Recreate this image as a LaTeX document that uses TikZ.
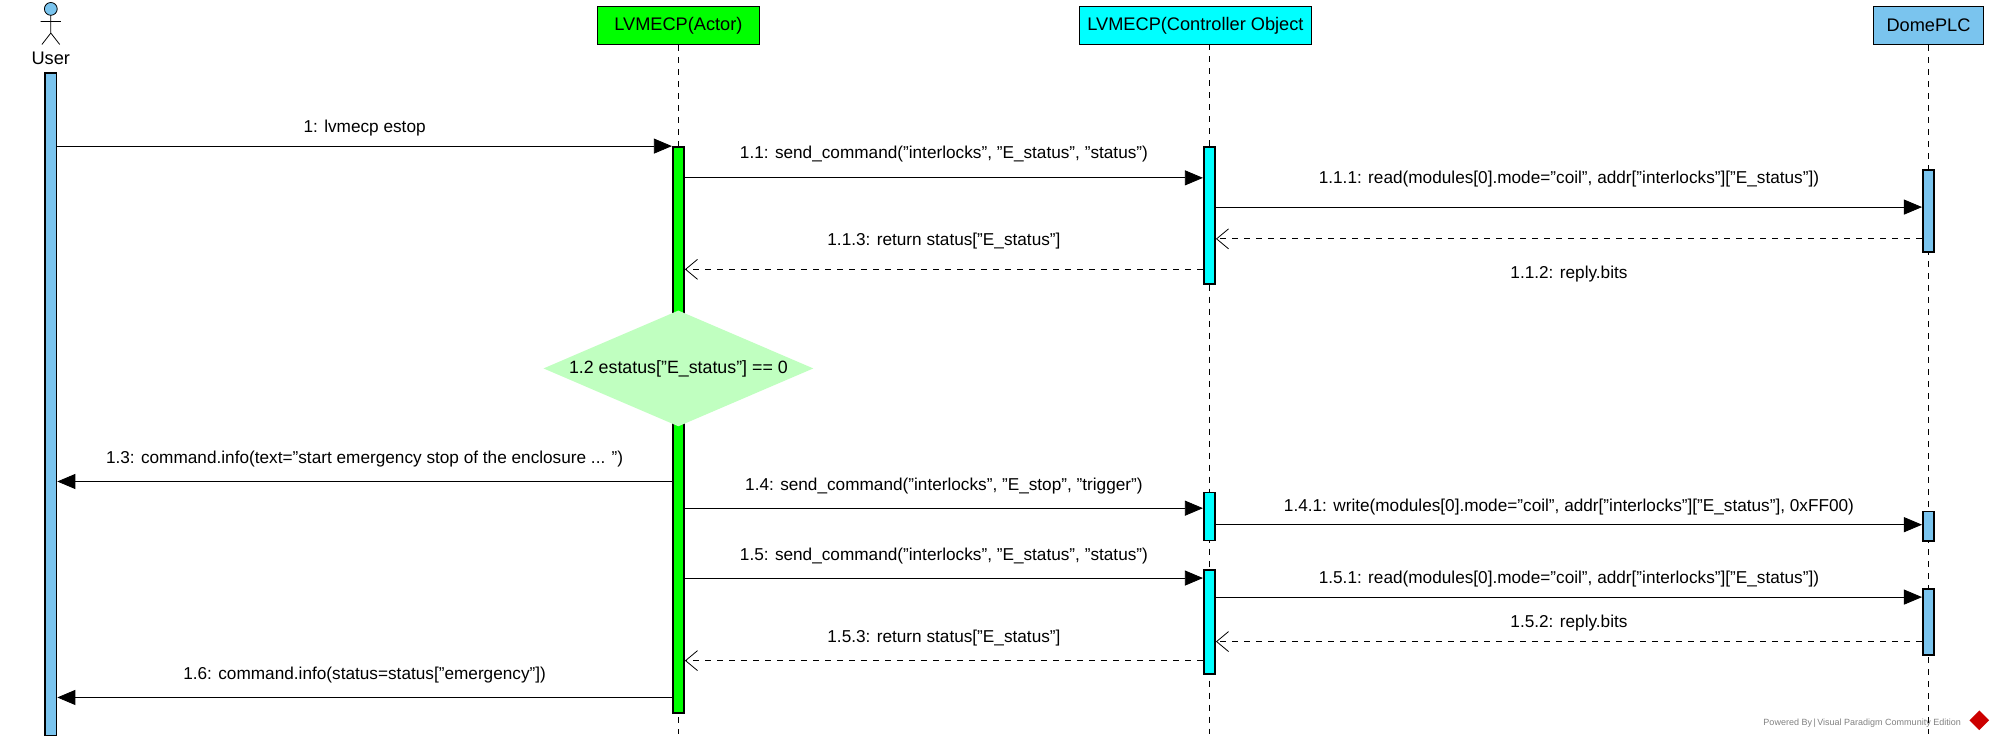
\documentclass[tikz,border=0pt]{standalone}
\usepackage{fontspec}
\setmainfont{Liberation Sans}
\usetikzlibrary{arrows.meta,shapes.geometric}
\definecolor{userblue}{RGB}{122,196,238}
\definecolor{actgreen}{RGB}{0,255,0}
\definecolor{ctrlcyan}{RGB}{0,255,255}
\definecolor{condgreen}{RGB}{192,255,192}
\tikzset{
	head/.style={draw, thick, minimum height=19pt, inner xsep=4pt, font=\fontsize{9.1}{11}\selectfont},
	bar/.style={draw, thick, minimum width=5.7pt, inner sep=0pt, anchor=north},
	life/.style={dashed, thin},
	msg/.style={thin, -{Triangle[length=9pt, width=7.5pt]}},
	ret/.style={thin, dashed, -{Straight Barb[length=6pt, width=10pt]}},
	lbl/.style={font=\fontsize{8.6}{10}\selectfont, above=1.5pt},
}
\begin{document}
\begin{tikzpicture}[x=0.635pt, y=-0.635pt]
	\useasboundingbox (0,0) rectangle (1568,583);
	% lifeline heads
	\node[head, fill=actgreen, minimum width=81pt] (actor) at (534,20) {LVMECP(Actor)};
	\node[head, fill=ctrlcyan, minimum width=111pt] (ctrl) at (941,20) {LVMECP(Controller Object};
	\node[head, fill=userblue, minimum width=55pt] (plc) at (1518,20) {DomePLC};
	% user stick figure
	\draw[thin, fill=userblue] (40,7) circle (3.2pt);
	\draw[thin] (40,12) -- (40,26) (32,17) -- (48,17) (33,35) -- (40,26) -- (47,35);
	\node[font=\fontsize{9.1}{11}\selectfont] (user) at (40,46) {User};
	% lifelines
	\draw[life] (actor.south) -- (534,578);
	\draw[life] (952,35) -- (952,578);
	\draw[life] (plc.south) -- (1518,578);
	% activations
	\node[bar, fill=userblue, minimum height=331pt] (ub) at (40,57) {};
	\node[bar, fill=actgreen, minimum height=283pt] (ab) at (534,115) {};
	\node[bar, fill=ctrlcyan, minimum height=68.6pt] (cb1) at (952,115) {};
	\node[bar, fill=ctrlcyan, minimum height=24pt] (cb2) at (952,387) {};
	\node[bar, fill=ctrlcyan, minimum height=52pt] (cb3) at (952,448) {};
	\node[bar, fill=userblue, minimum height=41pt] (pb1) at (1518,133) {};
	\node[bar, fill=userblue, minimum height=14.6pt] (pb2) at (1518,402) {};
	\node[bar, fill=userblue, minimum height=33pt] (pb3) at (1518,463) {};
	% condition
	\node[diamond, fill=condgreen, minimum width=135pt, minimum height=58pt, inner sep=0pt,
		aspect=2.3, font=\fontsize{8.9}{11}\selectfont] (cond) at (534,290) {1.2 estatus["E\_status"] == 0};
	% messages
	\draw[msg] (ub.east |- 0,115) -- node[lbl] {1: lvmecp estop} (ab.west |- 0,115);
	\draw[msg] (ab.east |- 0,140) -- node[lbl, yshift=3pt] {1.1: send\_command("interlocks", "E\_status", "status")} (cb1.west |- 0,140);
	\draw[msg] (cb1.east |- 0,163) -- node[lbl, yshift=5pt] {1.1.1: read(modules[0].mode="coil", addr["interlocks"]["E\_status"])} (pb1.west |- 0,163);
	\draw[ret] (pb1.west |- 0,188) -- node[font=\fontsize{8.6}{10}\selectfont, below=10pt] {1.1.2: reply.bits} (cb1.east |- 0,188);
	\draw[ret] (cb1.west |- 0,212) -- node[lbl, yshift=5pt] {1.1.3: return status["E\_status"]} (ab.east |- 0,212);
	\draw[msg] (ab.west |- 0,379) -- node[lbl, yshift=2pt] {1.3: command.info(text="start emergency stop of the enclosure ... ")} (ub.east |- 0,379);
	\draw[msg] (ab.east |- 0,400) -- node[lbl, yshift=2pt] {1.4: send\_command("interlocks", "E\_stop", "trigger")} (cb2.west |- 0,400);
	\draw[msg] (cb2.east |- 0,413) -- node[lbl] {1.4.1: write(modules[0].mode="coil", addr["interlocks"]["E\_status"], 0xFF00)} (pb2.west |- 0,413);
	\draw[msg] (ab.east |- 0,455) -- node[lbl, yshift=2pt] {1.5: send\_command("interlocks", "E\_status", "status")} (cb3.west |- 0,455);
	\draw[msg] (cb3.east |- 0,470) -- node[lbl] {1.5.1: read(modules[0].mode="coil", addr["interlocks"]["E\_status"])} (pb3.west |- 0,470);
	\draw[ret] (pb3.west |- 0,505) -- node[lbl] {1.5.2: reply.bits} (cb3.east |- 0,505);
	\draw[ret] (cb3.west |- 0,520) -- node[lbl, yshift=2pt] {1.5.3: return status["E\_status"]} (ab.east |- 0,520);
	\draw[msg] (ab.west |- 0,549) -- node[lbl, yshift=2pt] {1.6: command.info(status=status["emergency"])} (ub.east |- 0,549);
	% footer
	\node[font=\fontsize{4.5}{5}\selectfont, text=gray, anchor=east] (powered) at (1549,569) {Powered By\,|\,Visual Paradigm Community Edition};
	\node[diamond, fill=red!80!black, inner sep=2.5pt] (logo) at (1558,567) {};
\end{tikzpicture}
\end{document}
